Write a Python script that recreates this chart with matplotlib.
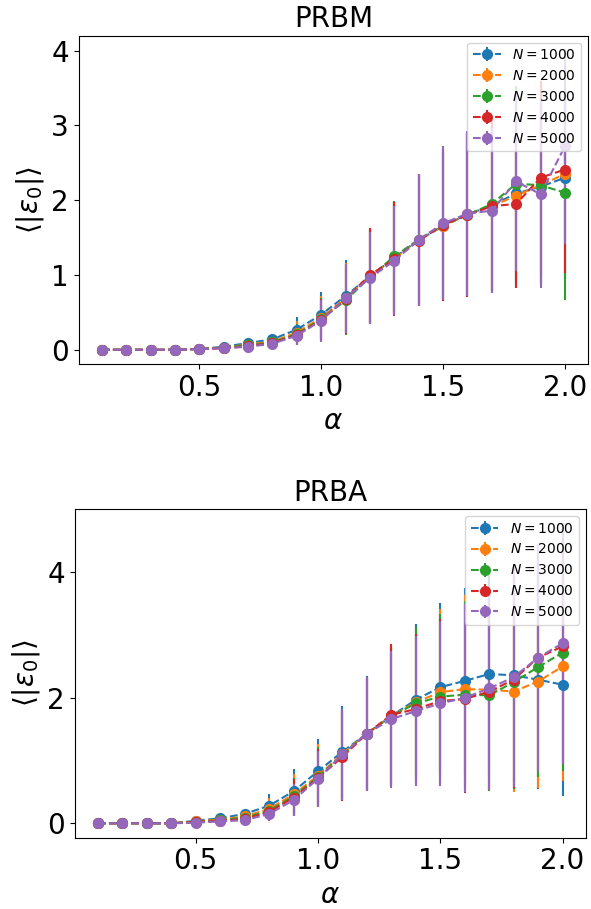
import numpy as np
import matplotlib
matplotlib.use("Agg")
import matplotlib.pyplot as plt

# 1. Data
alpha = [0.1, 0.2, 0.3, 0.4, 0.5, 0.6, 0.7, 0.8, 0.9, 1.0,
         1.1, 1.2, 1.3, 1.4, 1.5, 1.6, 1.7, 1.8, 1.9, 2.0]
sizes = [1000, 2000, 3000, 4000, 5000]

# 1a. PRBM means and errors
prbm_n1000 = [0, 0, 0, 0, 0.01, 0.04, 0.09, 0.14, 0.27, 0.47, 0.72, 0.98, 1.23, 1.47, 1.65, 1.81, 1.93, 2.09, 2.18, 2.30]
prbm_n2000 = [0, 0, 0, 0, 0.01, 0.03, 0.07, 0.11, 0.23, 0.43, 0.69, 0.98, 1.22, 1.47, 1.66, 1.81, 1.92, 2.06, 2.20, 2.35]
prbm_n3000 = [0, 0, 0, 0, 0.01, 0.03, 0.06, 0.10, 0.21, 0.41, 0.66, 0.97, 1.25, 1.47, 1.67, 1.80, 1.95, 2.22, 2.20, 2.10]
prbm_n4000 = [0, 0, 0, 0, 0.01, 0.02, 0.05, 0.09, 0.20, 0.40, 0.68, 1.00, 1.21, 1.46, 1.67, 1.80, 1.92, 1.95, 2.30, 2.41]
prbm_n5000 = [0, 0, 0, 0, 0.01, 0.02, 0.04, 0.08, 0.19, 0.39, 0.69, 0.96, 1.19, 1.47, 1.69, 1.82, 1.86, 2.25, 2.08, 2.72]

prbm_err1000 = [0, 0, 0, 0, 0.01, 0.02, 0.04, 0.06, 0.17, 0.30, 0.48, 0.62, 0.74, 0.86, 1.00, 1.08, 1.15, 1.25, 1.30, 1.35]
prbm_err2000 = [0, 0, 0, 0, 0.01, 0.02, 0.04, 0.06, 0.15, 0.29, 0.47, 0.63, 0.75, 0.87, 1.01, 1.09, 1.14, 1.20, 1.32, 1.36]
prbm_err3000 = [0, 0, 0, 0, 0.01, 0.02, 0.03, 0.05, 0.14, 0.28, 0.46, 0.63, 0.74, 0.88, 1.02, 1.09, 1.15, 1.30, 1.30, 1.43]
prbm_err4000 = [0, 0, 0, 0, 0.01, 0.02, 0.03, 0.05, 0.13, 0.28, 0.47, 0.63, 0.76, 0.87, 1.02, 1.10, 1.16, 1.13, 1.30, 1.38]
prbm_err5000 = [0, 0, 0, 0, 0.01, 0.02, 0.03, 0.05, 0.12, 0.28, 0.46, 0.62, 0.73, 0.88, 1.03, 1.10, 1.10, 1.20, 1.26, 1.30]

# 1b. PRBA means and errors
prba_n1000 = [0, 0, 0, 0, 0.04, 0.08, 0.15, 0.28, 0.51, 0.83, 1.14, 1.43, 1.71, 1.97, 2.17, 2.27, 2.38, 2.36, 2.29, 2.21]
prba_n2000 = [0, 0, 0, 0, 0.03, 0.06, 0.11, 0.23, 0.46, 0.76, 1.11, 1.43, 1.71, 1.93, 2.09, 2.14, 2.13, 2.10, 2.26, 2.50]
prba_n3000 = [0, 0, 0, 0, 0.02, 0.05, 0.09, 0.20, 0.43, 0.74, 1.09, 1.43, 1.71, 1.91, 2.02, 2.05, 2.04, 2.25, 2.49, 2.72]
prba_n4000 = [0, 0, 0, 0, 0.02, 0.04, 0.07, 0.18, 0.41, 0.72, 1.06, 1.43, 1.73, 1.82, 1.95, 1.98, 2.10, 2.29, 2.64, 2.82]
prba_n5000 = [0, 0, 0, 0, 0.01, 0.03, 0.05, 0.15, 0.37, 0.71, 1.10, 1.43, 1.66, 1.79, 1.91, 2.00, 2.15, 2.33, 2.64, 2.87]

prba_err1000 = [0, 0, 0, 0, 0.01, 0.03, 0.06, 0.19, 0.35, 0.52, 0.73, 0.92, 1.08, 1.21, 1.35, 1.48, 1.60, 1.70, 1.75, 1.77]
prba_err2000 = [0, 0, 0, 0, 0.01, 0.03, 0.05, 0.17, 0.32, 0.50, 0.72, 0.91, 1.10, 1.20, 1.33, 1.50, 1.60, 1.60, 1.70, 1.82]
prba_err3000 = [0, 0, 0, 0, 0.01, 0.02, 0.05, 0.15, 0.30, 0.48, 0.72, 0.90, 1.11, 1.22, 1.32, 1.49, 1.52, 1.70, 1.75, 1.88]
prba_err4000 = [0, 0, 0, 0, 0.01, 0.02, 0.04, 0.14, 0.29, 0.46, 0.71, 0.89, 1.13, 1.20, 1.30, 1.50, 1.57, 1.72, 1.80, 1.87]
prba_err5000 = [0, 0, 0, 0, 0.01, 0.02, 0.04, 0.11, 0.25, 0.45, 0.73, 0.91, 1.09, 1.19, 1.31, 1.50, 1.62, 1.75, 1.80, 1.92]

prbm_means = [prbm_n1000, prbm_n2000, prbm_n3000, prbm_n4000, prbm_n5000]
prbm_errs = [prbm_err1000, prbm_err2000, prbm_err3000, prbm_err4000, prbm_err5000]
prba_means = [prba_n1000, prba_n2000, prba_n3000, prba_n4000, prba_n5000]
prba_errs = [prba_err1000, prba_err2000, prba_err3000, prba_err4000, prba_err5000]


def draw_panel(ax, means, errs, title, ylim):
    for n, m, e in zip(sizes, means, errs):
        ax.errorbar(alpha, m, yerr=e, fmt="o--", markersize=7, label=f"$N={n}$")
    ax.set_title(title, fontsize=20)
    ax.set_xlabel(r"$\alpha$", fontsize=20)
    ax.set_ylabel(r"$\langle|\varepsilon_0|\rangle$", fontsize=20)
    ax.tick_params(labelsize=20)
    ax.set_xticks([0.5, 1.0, 1.5, 2.0])
    ax.set_ylim(ylim)
    ax.legend(loc="upper right", fontsize=10)


# 2. Figure with two stacked panels
fig = plt.figure(figsize=(5.91, 9.09), dpi=100)
ax1 = fig.add_axes([0.1332, 0.5996, 0.8618, 0.3612])
ax2 = fig.add_axes([0.1264, 0.0784, 0.8647, 0.3616])

draw_panel(ax1, prbm_means, prbm_errs, "PRBM", (-0.19, 4.2))
ax1.set_yticks([0, 1, 2, 3, 4])
draw_panel(ax2, prba_means, prba_errs, "PRBA", (-0.23, 5.01))
ax2.set_yticks([0, 2, 4])

plt.savefig("out.png", dpi=100)
plt.close()
